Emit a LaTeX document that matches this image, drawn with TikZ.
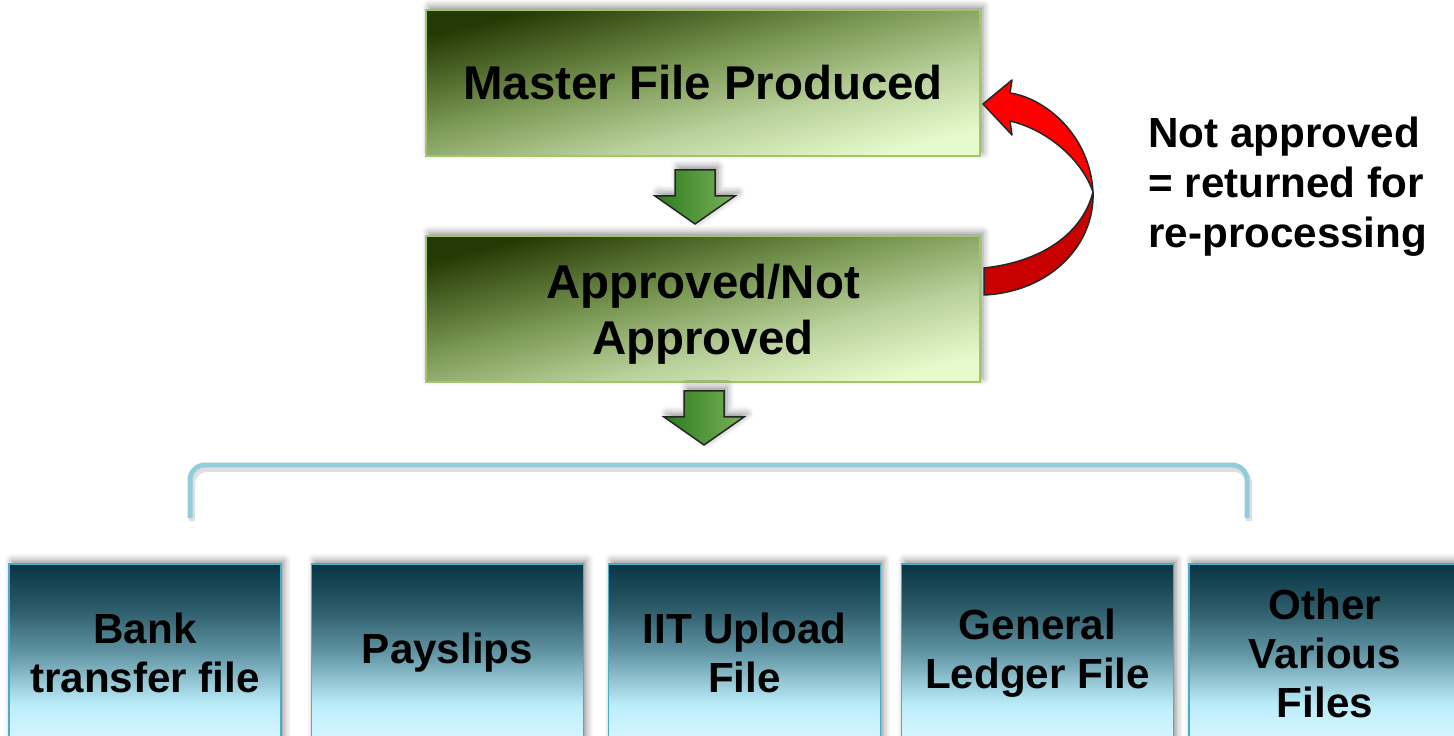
\documentclass[tikz,border=0pt]{standalone}
\usepackage{fontspec}
\setmainfont{Liberation Sans}
\usetikzlibrary{calc}
\usetikzlibrary{shadows.blur}
\definecolor{greenline}{HTML}{A3C46A}
\definecolor{tealline}{HTML}{4BACC6}
\definecolor{arrowdark}{HTML}{2E7A20}
\definecolor{arrowlight}{HTML}{7AB356}
\definecolor{redtop}{HTML}{FF0000}
\definecolor{redlow}{HTML}{C80000}
\definecolor{outline}{HTML}{262626}
\definecolor{bracketblue}{HTML}{92CDDC}

% fills of the boxes (75bp = top of the box, 25bp = bottom)
\pgfdeclareverticalshading{greenfade}{100bp}{%
  color(0bp)=(rgb,255:red,230;green,251;blue,204);
  color(25bp)=(rgb,255:red,230;green,251;blue,204);
  color(40bp)=(rgb,255:red,184;green,208;blue,154);
  color(55bp)=(rgb,255:red,122;green,151;blue,83);
  color(75bp)=(rgb,255:red,36;green,57;blue,3);
  color(100bp)=(rgb,255:red,36;green,57;blue,3)}
\pgfdeclareverticalshading{tealfade}{100bp}{%
  color(0bp)=(rgb,255:red,216;green,247;blue,254);
  color(25bp)=(rgb,255:red,216;green,247;blue,254);
  color(35bp)=(rgb,255:red,189;green,238;blue,251);
  color(39bp)=(rgb,255:red,167;green,216;blue,230);
  color(50bp)=(rgb,255:red,98;green,150;blue,165);
  color(62.5bp)=(rgb,255:red,44;green,91;blue,105);
  color(75bp)=(rgb,255:red,8;green,53;blue,67);
  color(100bp)=(rgb,255:red,8;green,53;blue,67)}

\tikzset{
  stepshadow/.style={blur shadow={shadow xshift=0.06cm, shadow yshift=0.07cm,
      shadow blur radius=0.14cm, shadow opacity=45}},
  greenbox/.style={draw=greenline, line width=0.04cm,
      shade, shading=greenfade, shading angle=14, stepshadow,
      minimum width=11.08cm, minimum height=2.92cm, inner sep=0pt,
      align=center, font=\fontsize{27}{32}\selectfont\bfseries},
  filebox/.style={draw=tealline, line width=0.03cm,
      shade, shading=tealfade, stepshadow,
      minimum width=5.44cm, minimum height=3.56cm, inner sep=0pt,
      align=center, font=\fontsize{24}{28}\selectfont\bfseries},
  garrow/.style={draw=outline, line width=0.03cm, left color=arrowdark,
      right color=arrowlight, stepshadow},
  redpart/.style={draw=outline, line width=0.03cm, line join=round},
  bracket/.style={bracketblue, line width=0.1cm, rounded corners=0.3cm},
  note/.style={anchor=west, align=left, inner sep=0pt,
      font=\fontsize{24}{28.5}\selectfont\bfseries}
}

\begin{document}
\begin{tikzpicture}[x=0.02cm, y=-0.02cm]
\useasboundingbox (0,0) rectangle (1454,736);
\clip (0,0) rectangle (1454,736);

% the two steps
\node[greenbox] (master) at (703,83) {Master File Produced};
\node[greenbox, text depth=0pt] (approval) at (703,309) {Approved/Not\\Approved};

% block arrows between the steps
\path[garrow] ($(master.south)+(-28,13)$) -- ++(40,0) -- ++(0,26) -- ++(20,0)
  -- ++(-40,28) -- ++(-40,-28) -- ++(20,0) -- cycle;
\path[garrow] ($(approval.south)+(-19,8)$) -- ++(40,0) -- ++(0,26) -- ++(20,0)
  -- ++(-40,28) -- ++(-40,-28) -- ++(20,0) -- cycle;

% return arrow, lower half then upper half with the head
\coordinate (turn) at (1093,192);
\path[redpart, fill=redlow] (984,268) .. controls (1040,262) and (1082,235) .. (turn)
  .. controls (1095,245) and (1050,292) .. (984,295) -- cycle;
\path[redpart, fill=redtop] (turn) .. controls (1090,135) and (1045,98) .. (1010,93)
  -- (1012,80) -- (983,104) -- (1012,135) -- (1010,121)
  .. controls (1048,130) and (1082,160) .. (turn) -- cycle;

\node[note] (note) at (1148,187) {Not approved\\= returned for\\re-processing};

% bracket over the output files
\draw[bracket, black!25, opacity=0.5, line width=0.12cm] (192,521) -- (192,469) -- (1249,469) -- (1249,521);
\draw[bracket] (190,518) -- (190,465) -- (1247,465) -- (1247,518);

% output files
\node[filebox] (bank) at (145,653) {Bank\\transfer file};
\node[filebox] (payslips) at (447.5,653) {Payslips};
\node[filebox, text depth=0pt] (upload) at (744.5,653) {IIT Upload\\File};
\node[filebox] (ledger) at (1037.5,653) {General\\Ledger File};
\node[filebox, text depth=0pt] (other) at (1325,653) {Other\\Various\\Files};

\end{tikzpicture}
\end{document}
